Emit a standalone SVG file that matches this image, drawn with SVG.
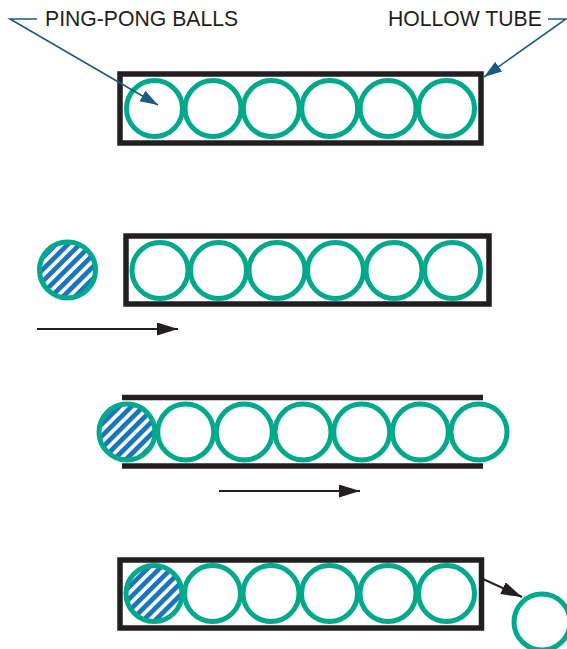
<svg xmlns="http://www.w3.org/2000/svg" width="567" height="649" viewBox="0 0 567 649">
<defs>
<style>
.tube{fill:none;stroke:#231f20;stroke-width:5.5}
.bar{stroke:#231f20;stroke-width:5.5}
.ball{fill:none;stroke:#00a88c;stroke-width:5}
.hball{fill:url(#hatch);stroke:#00a88c;stroke-width:5}
.lead{fill:none;stroke:#1d5a83;stroke-width:1.6}
.arr{fill:none;stroke:#231f20;stroke-width:2}
.lbl{font-family:"Liberation Sans",Arial,sans-serif;font-size:21.2px;fill:#231f20}
</style>
<pattern id="hatch" patternUnits="userSpaceOnUse" width="8.4" height="8.4" patternTransform="rotate(45)">
<rect x="0" y="0" width="8.4" height="8.4" fill="#ffffff"/>
<rect x="0" y="0" width="4.8" height="8.4" fill="#1b75bb"/>
</pattern>
<marker id="mBlue" markerUnits="userSpaceOnUse" markerWidth="20" markerHeight="14" refX="18" refY="6" orient="auto">
<path d="M0,0 L18,6 L0,12 Z" fill="#1d5a83"/>
</marker>
<marker id="mBlack" markerUnits="userSpaceOnUse" markerWidth="22" markerHeight="14" refX="21" refY="6.5" orient="auto">
<path d="M0,0 L21,6.5 L0,13 Z" fill="#231f20"/>
</marker>
</defs>
<rect width="567" height="649" fill="#ffffff"/>

<g id="label-pingpong">
<text class="lbl" x="45" y="26">PING-PONG BALLS</text>
</g>
<g id="label-tube">
<text class="lbl" x="388" y="26">HOLLOW TUBE</text>
</g>

<g id="stage1">
<rect class="tube" x="120" y="74" width="361" height="69"/>
<circle class="ball" cx="154.5" cy="108.5" r="28"/>
<circle class="ball" cx="213" cy="108.5" r="28"/>
<circle class="ball" cx="271.3" cy="108.5" r="28"/>
<circle class="ball" cx="329.7" cy="108.5" r="28"/>
<circle class="ball" cx="388.1" cy="108.5" r="28"/>
<circle class="ball" cx="446.5" cy="108.5" r="28"/>
</g>

<g id="stage2">
<circle class="hball" cx="67.5" cy="270" r="28"/>
<rect class="tube" x="126" y="236" width="363" height="68"/>
<circle class="ball" cx="160" cy="270.5" r="28"/>
<circle class="ball" cx="218.5" cy="270.5" r="28"/>
<circle class="ball" cx="277" cy="270.5" r="28"/>
<circle class="ball" cx="335.5" cy="270.5" r="28"/>
<circle class="ball" cx="394" cy="270.5" r="28"/>
<circle class="ball" cx="452.5" cy="270.5" r="28"/>
</g>

<g id="stage3">
<line class="bar" x1="122" y1="397.5" x2="483" y2="397.5"/>
<line class="bar" x1="122" y1="466" x2="483" y2="466"/>
<circle class="hball" cx="127" cy="432" r="28"/>
<circle class="ball" cx="185.7" cy="432" r="28"/>
<circle class="ball" cx="244.3" cy="432" r="28"/>
<circle class="ball" cx="303" cy="432" r="28"/>
<circle class="ball" cx="361.7" cy="432" r="28"/>
<circle class="ball" cx="420.3" cy="432" r="28"/>
<circle class="ball" cx="479" cy="432" r="28"/>
</g>

<g id="stage4">
<rect class="tube" x="120" y="560" width="361.5" height="68"/>
<circle class="hball" cx="154" cy="593.5" r="28"/>
<circle class="ball" cx="212.5" cy="593.5" r="28"/>
<circle class="ball" cx="271" cy="593.5" r="28"/>
<circle class="ball" cx="329.5" cy="593.5" r="28"/>
<circle class="ball" cx="388" cy="593.5" r="28"/>
<circle class="ball" cx="446.5" cy="593.5" r="28"/>
<circle class="ball" cx="542" cy="622" r="28"/>
</g>

<g id="connectors">
<polyline class="lead" points="37,19 10,19 158,105" marker-end="url(#mBlue)"/>
<polyline class="lead" points="548,19 566,19 484,77" marker-end="url(#mBlue)"/>
<line class="arr" x1="37" y1="329" x2="178" y2="329" marker-end="url(#mBlack)"/>
<line class="arr" x1="219" y1="491" x2="360" y2="491" marker-end="url(#mBlack)"/>
<line class="arr" x1="483" y1="579" x2="522" y2="597" marker-end="url(#mBlack)"/>
</g>
</svg>
